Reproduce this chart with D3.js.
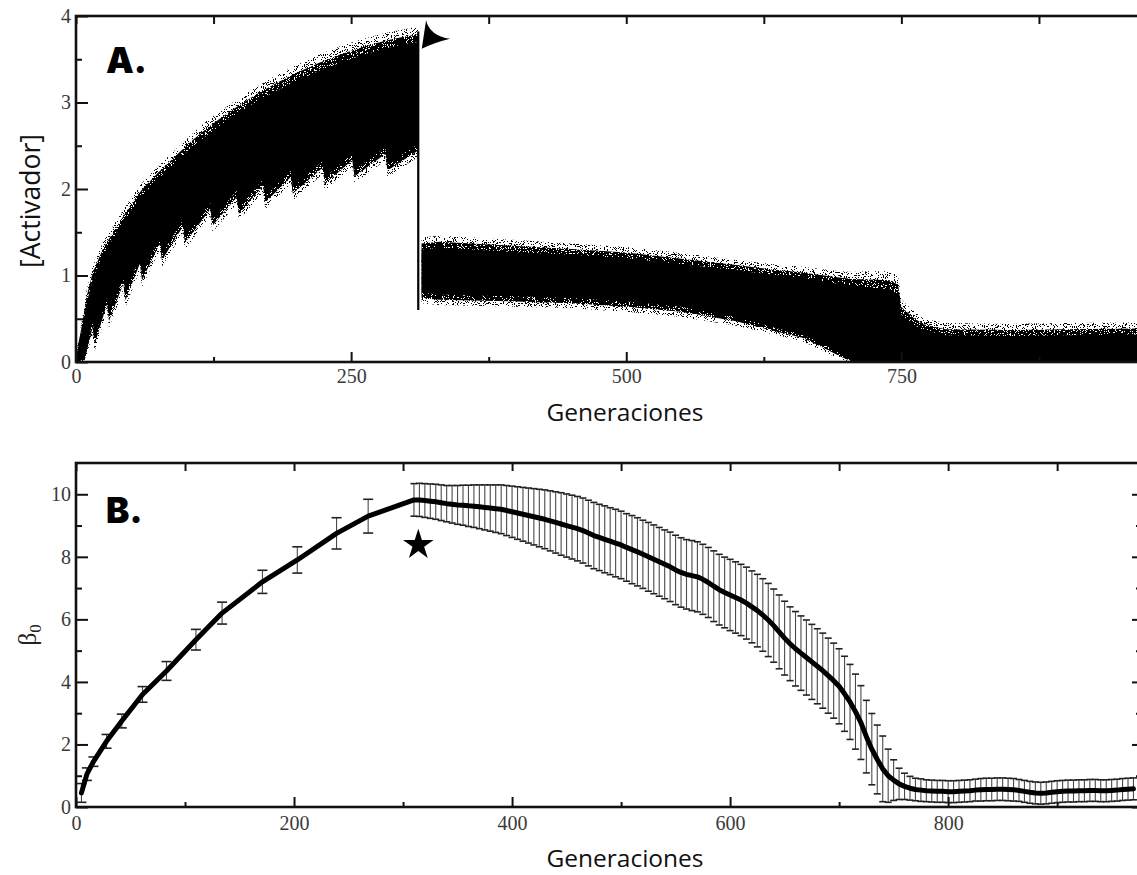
<!DOCTYPE html>
<html><head><meta charset="utf-8">
<script src="https://cdn.jsdelivr.net/npm/d3@7"></script>
<style>body{margin:0;background:#fff}svg{display:block}</style>
</head><body>
<svg id="c" width="1137" height="875"></svg>
<script>
// ---------------- Panel A data ----------------
const xTicksA = [0, 250, 500, 750];
const xMinorA = [125, 375, 625, 875];
const yTicksA = [0, 1, 2, 3, 4];
const yMinorA = [0.5, 1.5, 2.5, 3.5];
// phase 1 (before the jump): upper edge of dense cloud
const p1UpGen  = [0, 5, 10, 15, 20, 25, 30, 40, 50, 60, 75, 90, 105, 120, 140, 160, 180, 200, 220, 240, 260, 280, 300, 311];
const p1UpCore = [0.05, 0.35, 0.7, 0.95, 1.1, 1.25, 1.35, 1.55, 1.75, 1.92, 2.12, 2.3, 2.48, 2.63, 2.82, 2.98, 3.12, 3.25, 3.36, 3.46, 3.55, 3.62, 3.68, 3.7];
const p1UpHalo = [0.1, 0.45, 0.85, 1.1, 1.25, 1.4, 1.5, 1.7, 1.9, 2.07, 2.27, 2.45, 2.63, 2.8, 2.98, 3.15, 3.3, 3.43, 3.55, 3.65, 3.73, 3.8, 3.85, 3.88];
// phase 1: lower (saw-tooth) edge
const p1LoGen  = [0, 8, 15, 17, 28, 30, 43, 45, 58, 60, 76, 78, 97, 99, 122, 124, 146, 148, 170, 172, 195, 197, 224, 226, 251, 253, 281, 283, 311];
const p1LoCore = [0, 0.05, 0.47, 0.28, 0.74, 0.55, 0.98, 0.79, 1.21, 1.02, 1.44, 1.25, 1.64, 1.45, 1.84, 1.65, 1.98, 1.79, 2.11, 1.92, 2.21, 2.02, 2.32, 2.13, 2.41, 2.22, 2.48, 2.29, 2.52];
const p1LoHalo = [0, 0, 0.32, 0.13, 0.59, 0.4, 0.83, 0.64, 1.06, 0.87, 1.29, 1.1, 1.49, 1.3, 1.69, 1.5, 1.83, 1.64, 1.96, 1.77, 2.06, 1.87, 2.17, 1.98, 2.26, 2.07, 2.33, 2.14, 2.37];
// the jump generation (vertical streak)
const jumpGen = 311, jumpLo = 0.6, jumpHi = 3.82;
// phase 2 (after the jump)
const p2Gen    = [314, 330, 360, 400, 450, 500, 550, 600, 620, 640, 660, 680, 695, 706, 720, 740, 747, 750, 760, 770, 790, 850, 900, 985];
const p2HiCore = [1.3, 1.32, 1.3, 1.27, 1.24, 1.2, 1.13, 1.06, 1.03, 1.0, 0.97, 0.93, 0.9, 0.88, 0.86, 0.84, 0.78, 0.55, 0.44, 0.37, 0.31, 0.3, 0.31, 0.32];
const p2HiHalo = [1.44, 1.46, 1.44, 1.41, 1.37, 1.33, 1.26, 1.18, 1.15, 1.12, 1.1, 1.07, 1.05, 1.04, 1.05, 1.05, 1.0, 0.72, 0.6, 0.5, 0.45, 0.44, 0.45, 0.46];
const p2LoCore = [0.8, 0.78, 0.77, 0.76, 0.74, 0.7, 0.64, 0.52, 0.45, 0.38, 0.32, 0.2, 0.1, 0, 0, 0, 0, 0, 0, 0, 0, 0, 0, 0];
const p2LoHalo = [0.68, 0.66, 0.65, 0.64, 0.62, 0.58, 0.52, 0.42, 0.36, 0.3, 0.24, 0.12, 0.02, 0, 0, 0, 0, 0, 0, 0, 0, 0, 0, 0];

// ---------------- Panel B data ----------------
const xTicksB = [0, 200, 400, 600, 800];
const xMinorB = [100, 300, 500, 700, 900];
const yTicksB = [0, 2, 4, 6, 8, 10];
const yMinorB = [1, 3, 5, 7, 9];
// sparse error bars before the peak
const b1Gen  = [5, 10, 16, 28, 42, 61, 83, 110, 134, 171, 203, 239, 268];
const b1Mean = [0.45, 1.05, 1.45, 2.1, 2.75, 3.6, 4.35, 5.35, 6.2, 7.2, 7.9, 8.75, 9.3];
const b1Sd   = [0.3, 0.2, 0.15, 0.22, 0.22, 0.25, 0.3, 0.33, 0.35, 0.37, 0.42, 0.5, 0.54];
// dense error bars from the peak onwards (every 5 generations, 310..970)
const b2Start = 310, b2Step = 5;
const b2Mean = [9.82,9.82,9.80,9.78,9.76,9.73,9.70,9.68,9.66,9.65,
  9.63,9.62,9.60,9.58,9.56,9.54,9.52,9.48,9.44,9.40,
  9.36,9.32,9.28,9.24,9.20,9.15,9.10,9.05,9.00,8.95,
  8.90,8.84,8.76,8.68,8.62,8.56,8.50,8.44,8.38,8.30,
  8.23,8.16,8.08,8.00,7.92,7.84,7.76,7.68,7.58,7.50,
  7.44,7.40,7.36,7.28,7.18,7.06,6.95,6.86,6.78,6.70,
  6.62,6.52,6.40,6.28,6.14,5.98,5.80,5.60,5.40,5.22,
  5.06,4.92,4.78,4.64,4.50,4.36,4.20,4.04,3.86,3.62,
  3.36,3.05,2.70,2.25,1.85,1.52,1.22,1.00,0.86,0.74,
  0.66,0.60,0.56,0.54,0.52,0.51,0.50,0.50,0.49,0.49,
  0.50,0.51,0.52,0.54,0.55,0.56,0.56,0.57,0.57,0.56,
  0.55,0.53,0.50,0.47,0.45,0.44,0.45,0.47,0.49,0.50,
  0.51,0.51,0.52,0.52,0.53,0.53,0.52,0.52,0.53,0.54,
  0.56,0.57,0.58];
const b2Sd = [0.52,0.53,0.54,0.55,0.56,0.57,0.58,0.60,0.62,0.64,
  0.66,0.68,0.70,0.72,0.74,0.76,0.78,0.80,0.82,0.84,
  0.86,0.88,0.90,0.92,0.94,0.96,0.98,1.00,1.01,1.02,
  1.03,1.04,1.05,1.06,1.06,1.07,1.07,1.08,1.08,1.08,
  1.09,1.09,1.09,1.10,1.10,1.10,1.10,1.11,1.11,1.11,
  1.11,1.12,1.12,1.12,1.12,1.13,1.13,1.13,1.14,1.14,
  1.14,1.15,1.15,1.16,1.16,1.17,1.17,1.18,1.18,1.18,
  1.19,1.19,1.20,1.20,1.20,1.20,1.20,1.20,1.20,1.20,
  1.20,1.20,1.18,1.16,1.14,1.10,1.05,0.85,0.65,0.50,
  0.42,0.38,0.36,0.36,0.35,0.35,0.35,0.35,0.35,0.35,
  0.35,0.35,0.35,0.35,0.36,0.36,0.36,0.36,0.36,0.36,
  0.36,0.35,0.35,0.35,0.35,0.35,0.35,0.35,0.35,0.35,
  0.35,0.35,0.35,0.35,0.35,0.35,0.35,0.35,0.35,0.35,
  0.35,0.35,0.35];
const starGen = 314, starVal = 8.38;

// ---------------- drawing ----------------
const svg = d3.select("#c");
svg.append("rect").attr("width",1137).attr("height",875).attr("fill","#fff");
const defs = svg.append("defs");
function speckle(id, seed, table, freq){
  const f = defs.append("filter").attr("id", id).attr("filterUnits","userSpaceOnUse")
    .attr("x",0).attr("y",0).attr("width",1137).attr("height",875);
  f.append("feTurbulence").attr("type","fractalNoise").attr("baseFrequency",freq)
    .attr("numOctaves",2).attr("seed",seed).attr("result","n");
  f.append("feColorMatrix").attr("in","n").attr("type","matrix")
    .attr("values","0 0 0 0 0  0 0 0 0 0  0 0 0 0 0  1 0 0 0 0").attr("result","a");
  f.append("feComponentTransfer").attr("in","a").attr("result","m")
    .append("feFuncA").attr("type","discrete").attr("tableValues", table);
  f.append("feComposite").attr("in","SourceGraphic").attr("in2","m").attr("operator","in");
}
speckle("spDense", 4, "0 0 0 0 1 1 1 1 1 1", 0.95);
speckle("spSparse", 9, "0 0 0 0 0 0 1 1 1 1", 0.9);

const tickFont = "'Liberation Serif','DejaVu Serif',serif";
const labFont = "'Open Sans','Noto Sans',sans-serif";
const heavyFont = "Inter,'Noto Sans',Roboto,sans-serif";

function frame(g, x, y, xT, xM, yT, yM, padX, showRight){
  const [x0,x1] = x.range(), [y0,y1] = y.range();
  g.append("g").attr("transform",`translate(0,${y0})`)
    .call(d3.axisBottom(x).tickValues(xT).tickSize(-10).tickSizeOuter(0).tickPadding(padX).tickFormat(d3.format("d")));
  g.append("g").attr("transform",`translate(0,${y0})`)
    .call(d3.axisBottom(x).tickValues(xM).tickSize(-5).tickSizeOuter(0).tickFormat(""));
  g.append("g").attr("transform",`translate(0,${y1})`)
    .call(d3.axisTop(x).tickValues(xT.concat(xM)).tickSize(-8).tickSizeOuter(0).tickFormat(""));
  g.append("g").attr("transform",`translate(${x0},0)`)
    .call(d3.axisLeft(y).tickValues(yT).tickSize(-12).tickSizeOuter(0).tickPadding(5).tickFormat(d3.format("d")));
  g.append("g").attr("transform",`translate(${x0},0)`)
    .call(d3.axisLeft(y).tickValues(yM).tickSize(-6).tickSizeOuter(0).tickFormat(""));
  if (showRight) {
    g.append("g").attr("transform",`translate(${x1},0)`)
      .call(d3.axisRight(y).tickValues(yT).tickSize(-8).tickSizeOuter(0).tickFormat(""));
    g.append("g").attr("transform",`translate(${x1},0)`)
      .call(d3.axisRight(y).tickValues(yM).tickSize(-4).tickSizeOuter(0).tickFormat(""));
  }
  g.selectAll(".domain").remove();
  g.selectAll(".tick line").attr("stroke","#111").attr("stroke-width",2);
  g.selectAll(".tick text").attr("font-family",tickFont).attr("font-size",20).attr("fill","#3a3a3a");
  g.append("rect").attr("x",x0).attr("y",y1).attr("width",x1-x0).attr("height",y0-y1)
    .attr("fill","none").attr("stroke","#111").attr("stroke-width",2.6);
}

// ---------- Panel A ----------
const xA = d3.scaleLinear().domain([0, 985]).range([76, 1160]);
const yA = d3.scaleLinear().domain([0, 4]).range([362, 16]);
const gA = svg.append("g");
defs.append("clipPath").attr("id","clipA").append("rect").attr("x",76).attr("y",16).attr("width",1084).attr("height",346);
const bandA = gA.append("g").attr("clip-path","url(#clipA)");
const poly = d3.line().x(d => xA(d[0])).y(d => yA(d[1]));
function band(upG, upV, loG, loV){
  const pts = upG.map((g,i)=>[g, upV[i]]).concat(loG.map((g,i)=>[g, loV[i]]).reverse());
  return poly(pts) + "Z";
}
const mid = (a,b) => a.map((v,i)=> (v + b[i]) / 2);
bandA.append("path").attr("d", band(p1UpGen, p1UpHalo, p1LoGen, p1LoHalo)).attr("fill","#000").attr("filter","url(#spSparse)");
bandA.append("path").attr("d", band(p2Gen, p2HiHalo, p2Gen, p2LoHalo)).attr("fill","#000").attr("filter","url(#spSparse)");
bandA.append("path").attr("d", band(p1UpGen, mid(p1UpHalo,p1UpCore), p1LoGen, mid(p1LoHalo,p1LoCore))).attr("fill","#000").attr("filter","url(#spDense)");
bandA.append("path").attr("d", band(p2Gen, mid(p2HiHalo,p2HiCore), p2Gen, mid(p2LoHalo,p2LoCore))).attr("fill","#000").attr("filter","url(#spDense)");
bandA.append("path").attr("d", band(p1UpGen, p1UpCore, p1LoGen, p1LoCore)).attr("fill","#000");
bandA.append("path").attr("d", band(p2Gen, p2HiCore, p2Gen, p2LoCore)).attr("fill","#000");
bandA.append("line").attr("x1",xA(jumpGen)).attr("x2",xA(jumpGen)).attr("y1",yA(jumpLo)).attr("y2",yA(jumpHi))
  .attr("stroke","#000").attr("stroke-width",2.2);
frame(gA, xA, yA, xTicksA, xMinorA, yTicksA, yMinorA, 7, false);
gA.append("path").attr("transform",`translate(${xA(jumpGen)+3.5},${yA(3.62)})`)
  .attr("d","M0,0 L4.3,-28.6 Q8,-13 28.3,-10 Q12,-6 0,0Z").attr("fill","#000");
gA.append("text").attr("x",106).attr("y",73).text("A.")
  .attr("font-family",heavyFont).attr("font-weight",900).attr("font-size",35).attr("fill","#000");
gA.append("text").attr("x",625).attr("y",421).attr("text-anchor","middle").text("Generaciones")
  .attr("font-family",labFont).attr("font-size",24.5).attr("fill","#111");
gA.append("text").attr("transform","translate(40,201) rotate(-90)").attr("text-anchor","middle").text("[Activador]")
  .attr("font-family",labFont).attr("font-size",26.5).attr("fill","#111");

// ---------- Panel B ----------
const xB = d3.scaleLinear().domain([0, 976]).range([76, 1140]);
const yB = d3.scaleLinear().domain([0, 11]).range([807, 463]);
const gB = svg.append("g");
defs.append("clipPath").attr("id","clipB").append("rect").attr("x",76).attr("y",463).attr("width",1064).attr("height",344);
const pB = gB.append("g").attr("clip-path","url(#clipB)");
const b2Gen = b2Mean.map((_, i) => b2Start + i * b2Step);
const bars = b1Gen.map((g,i)=>({g, m:b1Mean[i], s:b1Sd[i], cap:5}))
  .concat(b2Gen.map((g,i)=>({g, m:b2Mean[i], s:b2Sd[i], cap:3.5})));
const eb = pB.selectAll("g.eb").data(bars).join("g").attr("class","eb");
eb.append("line").attr("x1",d=>xB(d.g)).attr("x2",d=>xB(d.g))
  .attr("y1",d=>yB(Math.max(0,d.m-d.s))).attr("y2",d=>yB(d.m+d.s)).attr("stroke","#4a4a4a").attr("stroke-width",1.1);
eb.append("line").attr("x1",d=>xB(d.g)-d.cap).attr("x2",d=>xB(d.g)+d.cap)
  .attr("y1",d=>yB(d.m+d.s)).attr("y2",d=>yB(d.m+d.s)).attr("stroke","#222").attr("stroke-width",1.6);
eb.append("line").attr("x1",d=>xB(d.g)-d.cap).attr("x2",d=>xB(d.g)+d.cap)
  .attr("y1",d=>yB(Math.max(0,d.m-d.s))).attr("y2",d=>yB(Math.max(0,d.m-d.s))).attr("stroke","#222").attr("stroke-width",1.6);
const meanLine = d3.line().x(d=>xB(d.g)).y(d=>yB(d.m));
pB.append("path").attr("d", meanLine(bars)).attr("fill","none").attr("stroke","#000")
  .attr("stroke-width",5).attr("stroke-linejoin","round").attr("stroke-linecap","round");
frame(gB, xB, yB, xTicksB, xMinorB, yTicksB, yMinorB, 9, true);
gB.append("path").attr("transform",`translate(${xB(starGen)},${yB(starVal)})`)
  .attr("d", d3.symbol(d3.symbolStar, 290)()).attr("fill","#000");
gB.append("text").attr("x",106).attr("y",523).text("B.")
  .attr("font-family",heavyFont).attr("font-weight",900).attr("font-size",35).attr("fill","#000");
gB.append("text").attr("x",625).attr("y",867).attr("text-anchor","middle").text("Generaciones")
  .attr("font-family",labFont).attr("font-size",24.5).attr("fill","#111");
const bl = gB.append("text").attr("transform","translate(36,635) rotate(-90)").attr("text-anchor","middle")
  .attr("font-family",tickFont).attr("font-size",26).attr("fill","#222");
bl.append("tspan").text("β");
bl.append("tspan").attr("font-size",17).attr("dy",5).text("0");
</script>
</body></html>
